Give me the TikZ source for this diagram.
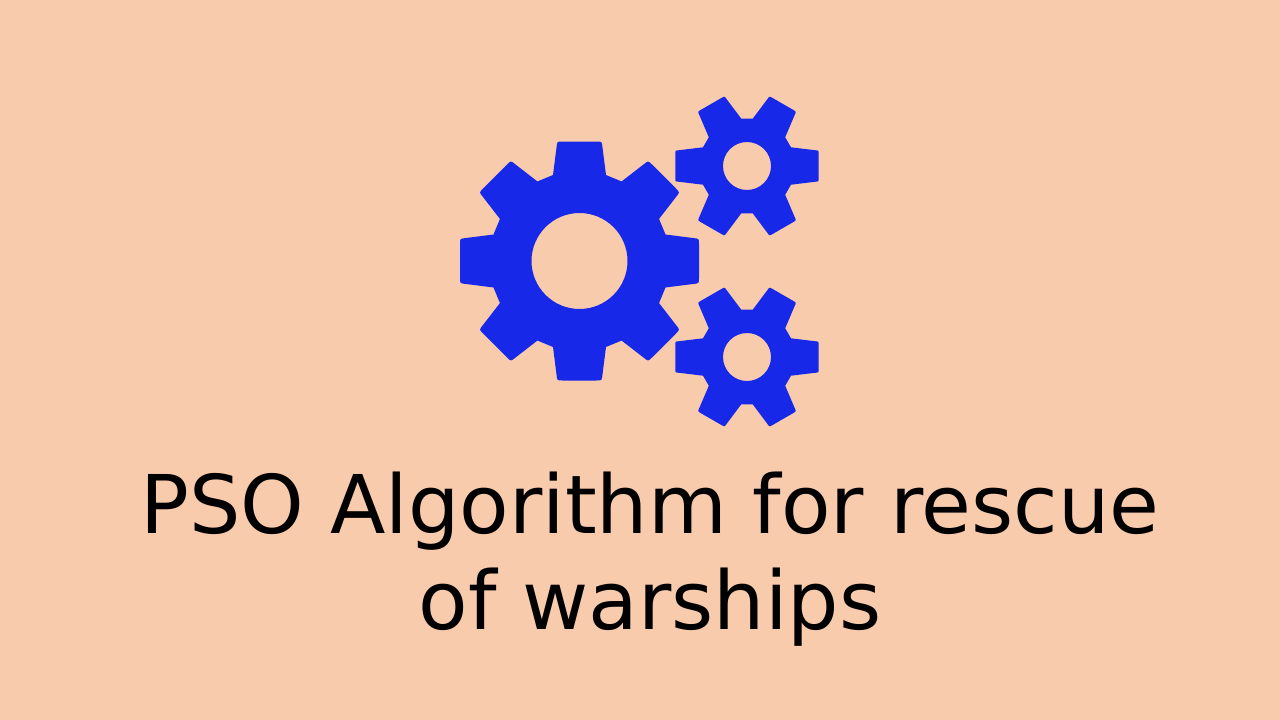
\documentclass[tikz,border=0pt]{standalone}
\usepackage{fontspec}
\setmainfont{DejaVu Sans}
\definecolor{bgpeach}{HTML}{F8CBAD}
\definecolor{gearblue}{HTML}{1728E8}
% big gear tooth at rotation #1 (local y upward)
\def\bigtooth#1{-- ([rotate=#1]-26.5,86) -- ([rotate=#1]-23,113.5) .. controls ([rotate=#1]-22.4,119.5) .. ([rotate=#1]-17,119.5) -- ([rotate=#1]17,119.5) .. controls ([rotate=#1]22.4,119.5) .. ([rotate=#1]23,113.5) -- ([rotate=#1]26.5,86)}
\def\smalltooth#1{-- ([rotate=#1]-18.7,44) .. controls ([rotate=#1]-17.6,56) .. ([rotate=#1]-15.8,68) .. controls ([rotate=#1]-15.5,71.7) .. ([rotate=#1]-12,71.7) -- ([rotate=#1]12,71.7) .. controls ([rotate=#1]15.5,71.7) .. ([rotate=#1]15.8,68) .. controls ([rotate=#1]17.6,56) .. ([rotate=#1]18.7,44)}
\def\smallgear{\fill[gearblue,even odd rule] ([rotate=90]-18.7,44) \smalltooth{90} \smalltooth{30} \smalltooth{-30} \smalltooth{-90} \smalltooth{-150} \smalltooth{150} -- cycle (0,0) circle (24);}
\begin{document}
\begin{tikzpicture}[x=1pt,y=1pt]
\useasboundingbox (0,-720) rectangle (1280,0);
\fill[bgpeach] (0,-720) rectangle (1280,0);
\begin{scope}[shift={(579.5,-261)}]
\fill[gearblue,even odd rule] (26.5,86) \bigtooth{-45} \bigtooth{-90} \bigtooth{-135} \bigtooth{180} \bigtooth{135} \bigtooth{90} \bigtooth{45} \bigtooth{0} -- cycle (0,0) circle (48);
\end{scope}
\begin{scope}[shift={(747,-166)}]\smallgear\end{scope}
\begin{scope}[shift={(747,-357)}]\smallgear\end{scope}
\node[inner sep=0pt,align=center,font=\fontsize{81}{96}\selectfont,anchor=center] (title) at (650,-559) {PSO Algorithm for rescue\\of warships};
\end{tikzpicture}
\end{document}
